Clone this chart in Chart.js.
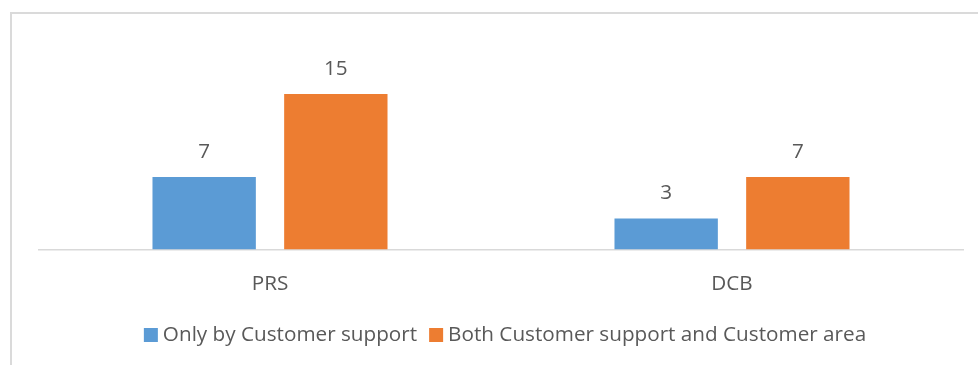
<!DOCTYPE html>
<html>
<head>
<meta charset="utf-8">
<script src="https://cdn.jsdelivr.net/npm/chart.js@4.4.1/dist/chart.umd.min.js"></script>
<style>
  html, body { margin: 0; padding: 0; background: #fff; overflow: hidden; }
  #frame {
    position: absolute; left: 10px; top: 12px; width: 1000px; height: 400px;
    border: 2px solid #dadada; box-sizing: border-box;
  }
  #wrap { position: absolute; left: 0; top: 0; width: 978px; height: 365px; }
</style>
</head>
<body>
<div id="frame"></div>
<div id="wrap"><canvas id="chart"></canvas></div>
<script>
const categories = ['PRS', 'DCB'];
const seriesNames = ['Only by Customer support', 'Both Customer support and Customer area'];
const onlySupport = [7, 3];
const bothSupportArea = [15, 7];
const colors = ['#5B9BD5', '#ED7D31'];

const FONT = '"Open Sans", sans-serif';
const TEXT = '#595959';
const SIZE = 20.7;

// value labels above each bar
const valueLabels = {
  id: 'valueLabels',
  afterDatasetsDraw(chart) {
    const ctx = chart.ctx;
    ctx.save();
    ctx.font = SIZE + 'px ' + FONT;
    ctx.fillStyle = TEXT;
    ctx.textAlign = 'center';
    ctx.textBaseline = 'middle';
    chart.data.datasets.forEach((ds, i) => {
      chart.getDatasetMeta(i).data.forEach((bar, j) => {
        ctx.fillText(ds.data[j], bar.x, bar.y - 25);
      });
    });
    ctx.restore();
  }
};

// Excel style legend: small square, tight gap to text
const bottomLegend = {
  id: 'bottomLegend',
  afterDraw(chart) {
    const ctx = chart.ctx;
    ctx.save();
    ctx.font = SIZE + 'px ' + FONT;
    const box = 14, gap = 5, itemGap = 12;
    const items = chart.data.datasets.map(ds => ({
      label: ds.label, color: ds.backgroundColor, w: ctx.measureText(ds.label).width
    }));
    let total = items.reduce((s, it) => s + box + gap + it.w, 0) + itemGap * (items.length - 1);
    let x = 505 - total / 2;
    const y = 335;
    items.forEach(it => {
      ctx.fillStyle = it.color;
      ctx.fillRect(x, y - box / 2, box, box);
      ctx.fillStyle = TEXT;
      ctx.textBaseline = 'middle';
      ctx.fillText(it.label, x + box + gap, y);
      x += box + gap + it.w + itemGap;
    });
    ctx.restore();
  }
};

new Chart(document.getElementById('chart'), {
  type: 'bar',
  data: {
    labels: categories,
    datasets: [
      { label: seriesNames[0], data: onlySupport, backgroundColor: colors[0] },
      { label: seriesNames[1], data: bothSupportArea, backgroundColor: colors[1] }
    ]
  },
  options: {
    responsive: true,
    maintainAspectRatio: false,
    animation: false,
    layout: { padding: { left: 39, right: 15, top: 42, bottom: 65.5 } },
    datasets: { bar: { categoryPercentage: 0.57, barPercentage: 0.785 } },
    plugins: { legend: { display: false }, tooltip: { enabled: false } },
    scales: {
      x: {
        grid: { display: false, drawTicks: false },
        border: { display: true, color: '#d9d9d9', width: 1.5 },
        ticks: { color: TEXT, font: { family: FONT, size: SIZE }, padding: 22 },
        afterFit(scale) { scale.height = 50; }
      },
      y: { display: false, min: 0, max: 20 }
    }
  },
  plugins: [valueLabels, bottomLegend]
});
</script>
</body>
</html>
